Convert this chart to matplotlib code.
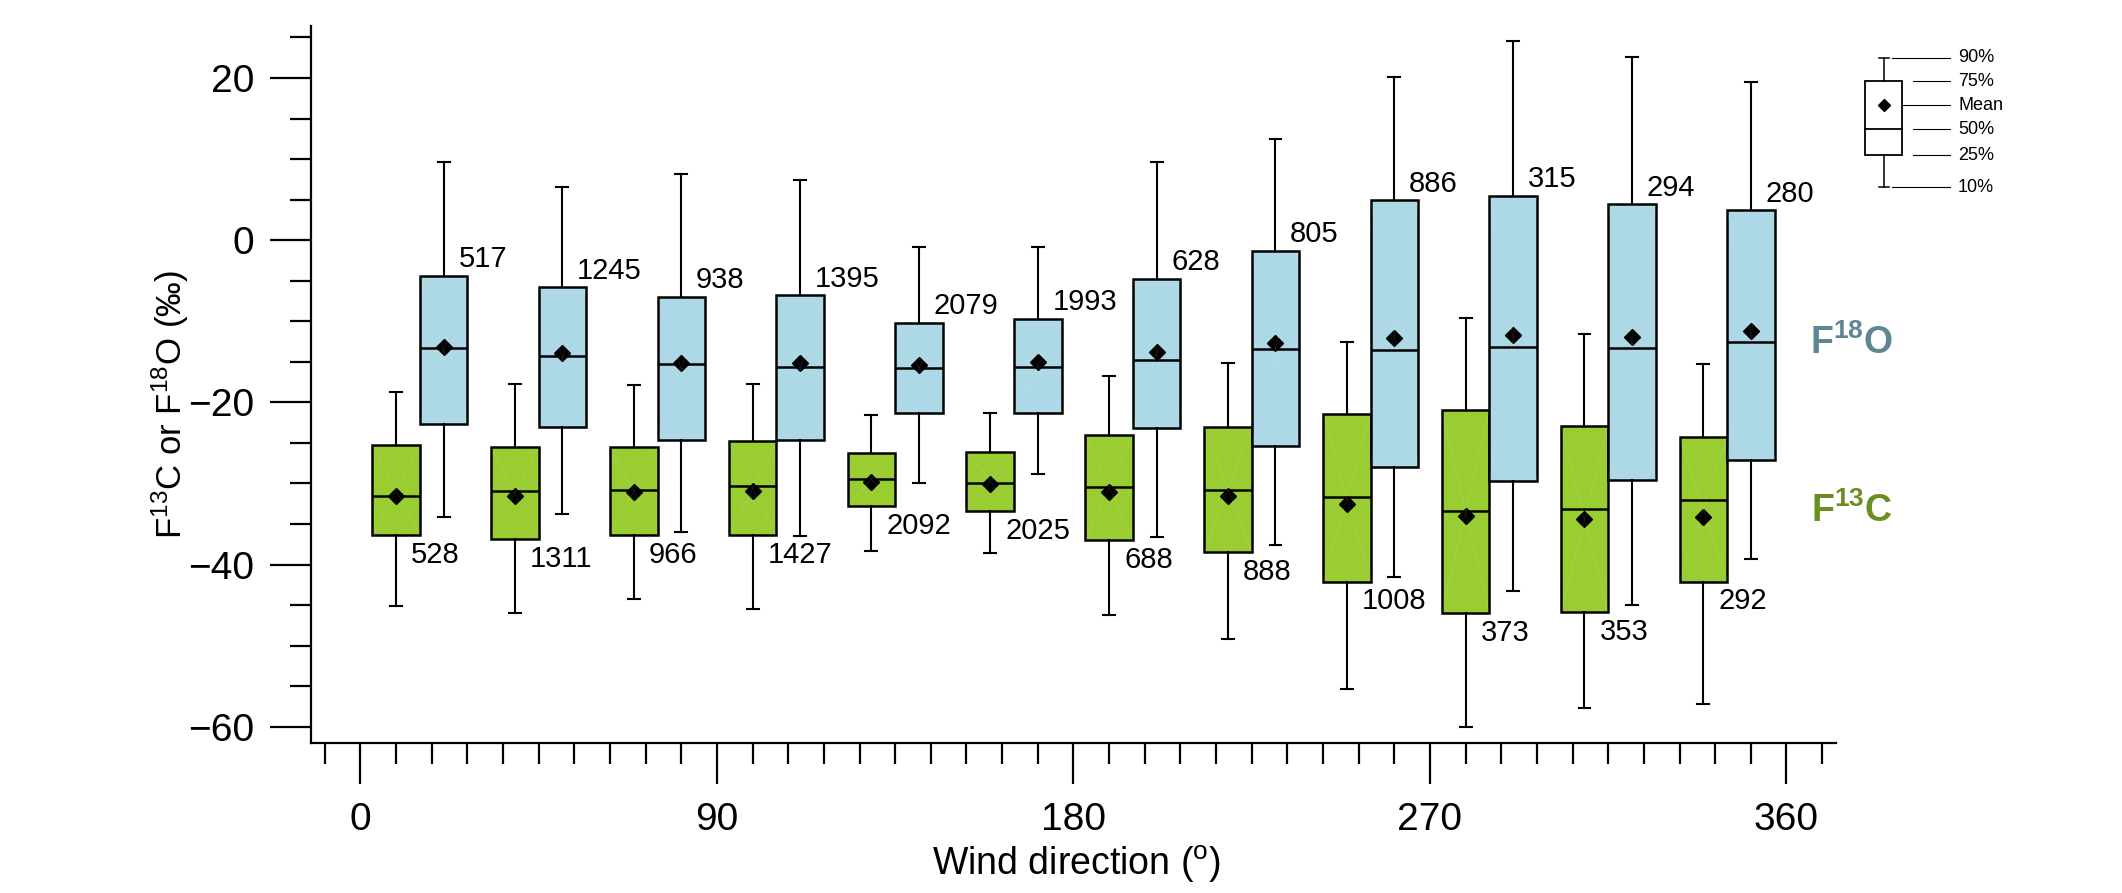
import matplotlib
matplotlib.use('Agg')
import matplotlib.pyplot as plt
import numpy as np
from matplotlib.patches import Rectangle

plt.rcParams['font.family'] = ['Liberation Sans', 'DejaVu Sans']
plt.rcParams['mathtext.fontset'] = 'custom'
plt.rcParams['mathtext.rm'] = 'Liberation Sans'
plt.rcParams['mathtext.it'] = 'Liberation Sans:italic'
plt.rcParams['mathtext.bf'] = 'Liberation Sans:bold'

# ---------------- data ----------------
bin_centers = [15, 45, 75, 105, 135, 165, 195, 225, 255, 285, 315, 345]

c13_p90 = [-18.75, -17.8, -17.9, -17.7, -21.6, -21.3, -16.7, -15.1, -12.5, -9.6, -11.6, -15.3]
c13_q3 = [-25.3, -25.5, -25.5, -24.8, -26.2, -26.1, -24.0, -23.0, -21.4, -20.9, -22.9, -24.3]
c13_med = [-31.6, -30.9, -30.8, -30.3, -29.4, -29.9, -30.5, -30.8, -31.7, -33.4, -33.2, -32.1]
c13_mean = [-31.6, -31.6, -31.0, -30.9, -29.8, -30.1, -31.0, -31.6, -32.6, -34.0, -34.4, -34.2]
c13_q1 = [-36.4, -36.9, -36.4, -36.4, -32.8, -33.4, -37.0, -38.5, -42.1, -46.0, -45.9, -42.1]
c13_p10 = [-45.1, -46.0, -44.2, -45.5, -38.3, -38.6, -46.2, -49.2, -55.3, -60.0, -57.7, -57.2]
c13_n = [528, 1311, 966, 1427, 2092, 2025, 688, 888, 1008, 373, 353, 292]

o18_p90 = [9.6, 6.5, 8.2, 7.4, -0.8, -0.8, 9.6, 12.5, 20.1, 24.5, 22.6, 19.5]
o18_q3 = [-4.4, -5.8, -7.0, -6.8, -10.2, -9.7, -4.8, -1.3, 4.9, 5.5, 4.4, 3.7]
o18_med = [-13.3, -14.3, -15.3, -15.7, -15.8, -15.7, -14.8, -13.4, -13.6, -13.2, -13.3, -12.6]
o18_mean = [-13.2, -13.9, -15.1, -15.1, -15.4, -15.0, -13.8, -12.7, -12.1, -11.7, -12.0, -11.2]
o18_q1 = [-22.7, -23.1, -24.7, -24.7, -21.3, -21.3, -23.2, -25.4, -28.0, -29.7, -29.6, -27.1]
o18_p10 = [-34.1, -33.8, -36.0, -36.5, -30.0, -28.8, -36.6, -37.6, -41.6, -43.3, -45.0, -39.3]
o18_n = [517, 1245, 938, 1395, 2079, 1993, 628, 805, 886, 315, 294, 280]

x_major = [0, 90, 180, 270, 360]
y_major = [-60, -40, -20, 0, 20]
legend_labels = ['90%', '75%', 'Mean', '50%', '25%', '10%']

GREEN = '#9ACD32'
BLUE = '#ADD8E6'
C13_TXT = '#6B8E23'
O18_TXT = '#5F8791'

W, H = 2122, 893
fig = plt.figure(figsize=(W / 100, H / 100), dpi=100)
ax = fig.add_axes([310.5 / W, 1 - 743.3 / H, (1836 - 310.5) / W, (743.3 - 25.6) / H])
ax.set_xlim(-12.6, 372.5)
ax.set_ylim(-62.05, 26.46)


def make_stats(p10, q1, med, mean, q3, p90):
    return [dict(whislo=a, q1=b, med=c, mean=d, q3=e, whishi=f, fliers=[])
            for a, b, c, d, e, f in zip(p10, q1, med, mean, q3, p90)]


offset = 6
box_w = 12
pos_c = np.array(bin_centers) - offset
pos_o = np.array(bin_centers) + offset

common = dict(widths=box_w, patch_artist=True, showmeans=True, showfliers=False,
              manage_ticks=False, capwidths=3,
              medianprops=dict(color='black', linewidth=1.8),
              whiskerprops=dict(color='black', linewidth=1.5),
              capprops=dict(color='black', linewidth=1.5),
              meanprops=dict(marker='D', markerfacecolor='black', markeredgecolor='black',
                             markersize=8.5))

for stats, pos, col, q1s, q3s in [
        (make_stats(c13_p10, c13_q1, c13_med, c13_mean, c13_q3, c13_p90), pos_c, GREEN, c13_q1, c13_q3),
        (make_stats(o18_p10, o18_q1, o18_med, o18_mean, o18_q3, o18_p90), pos_o, BLUE, o18_q1, o18_q3)]:
    for p, lo, hi in zip(pos, q1s, q3s):
        ax.plot([p - box_w / 2, p + box_w / 2], [lo, hi], color='white', alpha=0.12, lw=0.5, zorder=2.5)
        ax.plot([p - box_w / 2, p + box_w / 2], [hi, lo], color='white', alpha=0.12, lw=0.5, zorder=2.5)
    ax.bxp(stats, positions=pos,
           boxprops=dict(facecolor=col, edgecolor='black', linewidth=1.8), **common)

for p, q1, n in zip(pos_c, c13_q1, c13_n):
    ax.annotate(str(n), xy=(p, q1), xytext=(10.8, -20), textcoords='offset points',
                ha='left', va='baseline', fontsize=21)
for p, q3, n in zip(pos_o, o18_q3, o18_n):
    ax.annotate(str(n), xy=(p, q3), xytext=(10.6, 6.2), textcoords='offset points',
                ha='left', va='baseline', fontsize=21)

for s in ['top', 'right']:
    ax.spines[s].set_visible(False)
for s in ['left', 'bottom']:
    ax.spines[s].set_linewidth(1.6)

ax.set_xticks(x_major)
ax.set_xticks(np.arange(-9, 372, 9), minor=True)
ax.set_yticks(y_major)
ax.set_yticks(np.arange(-60, 26, 5), minor=True)
ax.tick_params(axis='both', which='major', length=29.5, width=1.6, labelsize=28)
ax.tick_params(axis='both', which='minor', length=14.8, width=1.6)
ax.tick_params(axis='x', which='major', pad=13)
ax.tick_params(axis='y', which='major', pad=11)

ov = fig.add_axes([0, 0, 1, 1])
ov.set_xlim(0, W)
ov.set_ylim(H, 0)
ov.axis('off')
ov.patch.set_visible(False)

ov.text(1076, 875, r'Wind direction ($^{\mathrm{o}}$)', ha='center', va='baseline', fontsize=27)
ov.text(170, 405, r'F$^{13}$C or F$^{18}$O (‰)', rotation=90, ha='center', va='center', fontsize=25)

ov.text(1810, 354, r'$\mathbf{F^{18}O}$', ha='left', va='baseline', fontsize=27, color=O18_TXT)
ov.text(1811, 522, r'$\mathbf{F^{13}C}$', ha='left', va='baseline', fontsize=27, color=C13_TXT)

kx0, kx1, kxc = 1865, 1902, 1883.5
ky = [58, 81, 105, 129, 155, 187]
ov.add_patch(Rectangle((kx0, ky[1]), kx1 - kx0, ky[4] - ky[1], facecolor='white',
                       edgecolor='black', linewidth=1.3))
ov.plot([kx0, kx1], [ky[3], ky[3]], color='black', lw=1.3)
ov.plot([kxc, kxc], [ky[0], ky[1]], color='black', lw=1.1)
ov.plot([kxc, kxc], [ky[4], ky[5]], color='black', lw=1.1)
ov.plot([kxc - 5, kxc + 5], [ky[0], ky[0]], color='black', lw=1.1)
ov.plot([kxc - 5, kxc + 5], [ky[5], ky[5]], color='black', lw=1.1)
ov.plot([kxc], [ky[2]], marker='D', color='black', markersize=6)
line_start = [1892, 1913, 1902, 1913, 1913, 1892]
for y, xs, lab in zip(ky, line_start, legend_labels):
    ov.plot([xs, 1950], [y, y], color='black', lw=0.8)
    ov.text(1958, y, lab, ha='left', va='center', fontsize=13)

fig.savefig('out.png', dpi=100)
